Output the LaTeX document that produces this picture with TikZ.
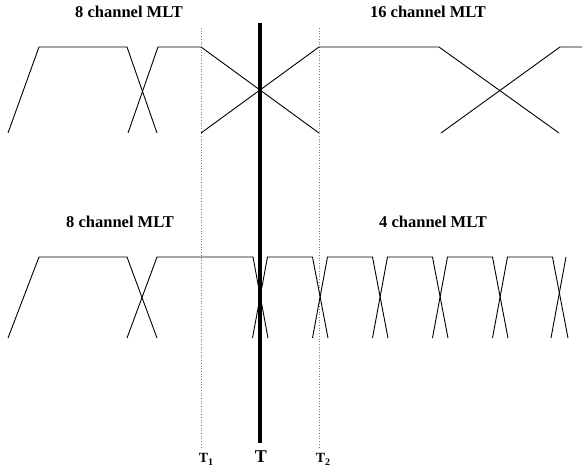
\documentclass[tikz,border=0pt]{standalone}
\usepackage{fontspec}
\setmainfont{Liberation Serif}
\begin{document}
\begin{tikzpicture}[x=1pt,y=-1pt,
  curve/.style={line width=0.9pt, black, line join=miter},
  guide/.style={line width=0.7pt, gray, dotted},
  timeline/.style={line width=3.6pt, black},
  lbl/.style={font=\fontsize{16.5}{18}\selectfont\bfseries, anchor=base, inner sep=0pt},
  tlbl/.style={font=\fontsize{14}{16}\selectfont\bfseries, anchor=base, inner sep=0pt},
  Tlbl/.style={font=\fontsize{18}{20}\selectfont\bfseries, anchor=base, inner sep=0pt}]
\useasboundingbox (0,0) rectangle (582,469);
% guide lines and time line
\coordinate (g1top) at (201,28);
\coordinate (g1bot) at (201,447);
\coordinate (g2top) at (319,28);
\coordinate (g2bot) at (319,447);
\coordinate (ttop) at (260,23);
\coordinate (tbot) at (260,443);
\draw[guide] (g1top) -- (g1bot);
\draw[guide] (g2top) -- (g2bot);
% top row
\draw[curve] (8,133) -- (39,47) -- (127,47) -- (157,133);
\draw[curve] (128,133) -- (158,47) -- (201,47) -- (319,133);
\draw[curve] (201,133) -- (319,47) -- (439,47) -- (559,133);
\draw[curve] (441,133) -- (560,47) -- (582,47);
% bottom row
\draw[curve] (8,338) -- (39,257) -- (127,257) -- (157,338);
\draw[curve] (127,338) -- (157,257) -- (253,257) -- (268,338);
\foreach \p/\c in {260/320, 320/380, 380/440, 440/500, 500/560}{
  \draw[curve] (\p-7.5,338) -- (\p+7.5,257) -- (\c-7.5,257) -- (\c+8,338);
}
\draw[curve] (551,338) -- (566,257);
\draw[timeline] (ttop) -- (tbot);
% labels
\node[lbl] (l8a) at (129,17) {8 channel MLT};
\node[lbl] (l16) at (428,17) {16 channel MLT};
\node[lbl] (l8b) at (120,227) {8 channel MLT};
\node[lbl] (l4) at (433,227) {4 channel MLT};
\node[tlbl] (T1) at (206,462) {T\raisebox{-3pt}{\fontsize{10}{12}\selectfont 1}};
\node[Tlbl] (T) at (261,462) {T};
\node[tlbl] (T2) at (323,462) {T\raisebox{-3pt}{\fontsize{10}{12}\selectfont 2}};
\end{tikzpicture}
\end{document}
